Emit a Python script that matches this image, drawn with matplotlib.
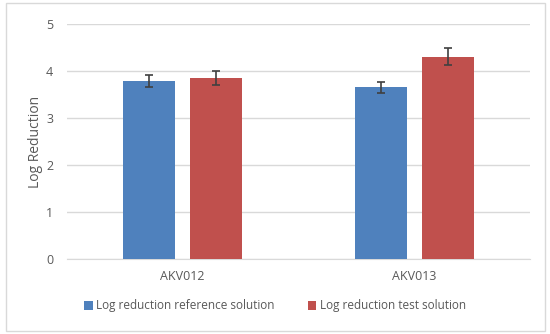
import numpy as np
import matplotlib.pyplot as plt

plt.rcParams['font.family'] = ['Open Sans', 'DejaVu Sans']

categories = ['AKV012', 'AKV013']
ref_vals = [3.79, 3.65]
ref_err = [0.13, 0.12]
test_vals = [3.86, 4.30]
test_err = [0.15, 0.18]

grey = '#595959'
x = np.arange(len(categories))
w = 0.225
off = 0.145

fig = plt.figure(figsize=(5.5, 3.34), dpi=100)
ax = fig.add_axes([67/550, 75/334, 463/550, 235/334])

ekw = dict(ecolor='#404040', capsize=3, elinewidth=1.2, capthick=1.2)
ax.bar(x - off, ref_vals, w, yerr=ref_err, color='#4f81bd', label='Log reduction reference solution', error_kw=ekw, zorder=3)
ax.bar(x + off, test_vals, w, yerr=test_err, color='#c0504d', label='Log reduction test solution', error_kw=ekw, zorder=3)

ax.set_xlim(-0.5, 1.5)
ax.set_ylim(0, 5)
ax.set_xticks(x)
ax.set_xticklabels(categories)
ax.set_yticks(range(6))
ax.grid(axis='y', color='#d9d9d9', linewidth=1, zorder=0)
for s in ['top', 'right', 'left']:
    ax.spines[s].set_visible(False)
ax.spines['bottom'].set_color('#d9d9d9')
ax.tick_params(length=0, colors=grey, labelsize=9)
ax.tick_params(axis='x', pad=8)
ax.tick_params(axis='y', pad=10)
ax.set_ylabel('Log Reduction', color=grey, fontsize=10, labelpad=2)

fig.legend(loc='center', bbox_to_anchor=(0.5, 28/334), ncol=2, frameon=False,
           fontsize=8.5, labelcolor=grey, handlelength=0.7, handleheight=0.7,
           handletextpad=0.3, columnspacing=2.8)

fig.patches.append(plt.Rectangle((0.01, 0.01), 0.98, 0.98, transform=fig.transFigure,
                                 fill=False, edgecolor='#d9d9d9', linewidth=1))

fig.savefig('out.png', dpi=100)
